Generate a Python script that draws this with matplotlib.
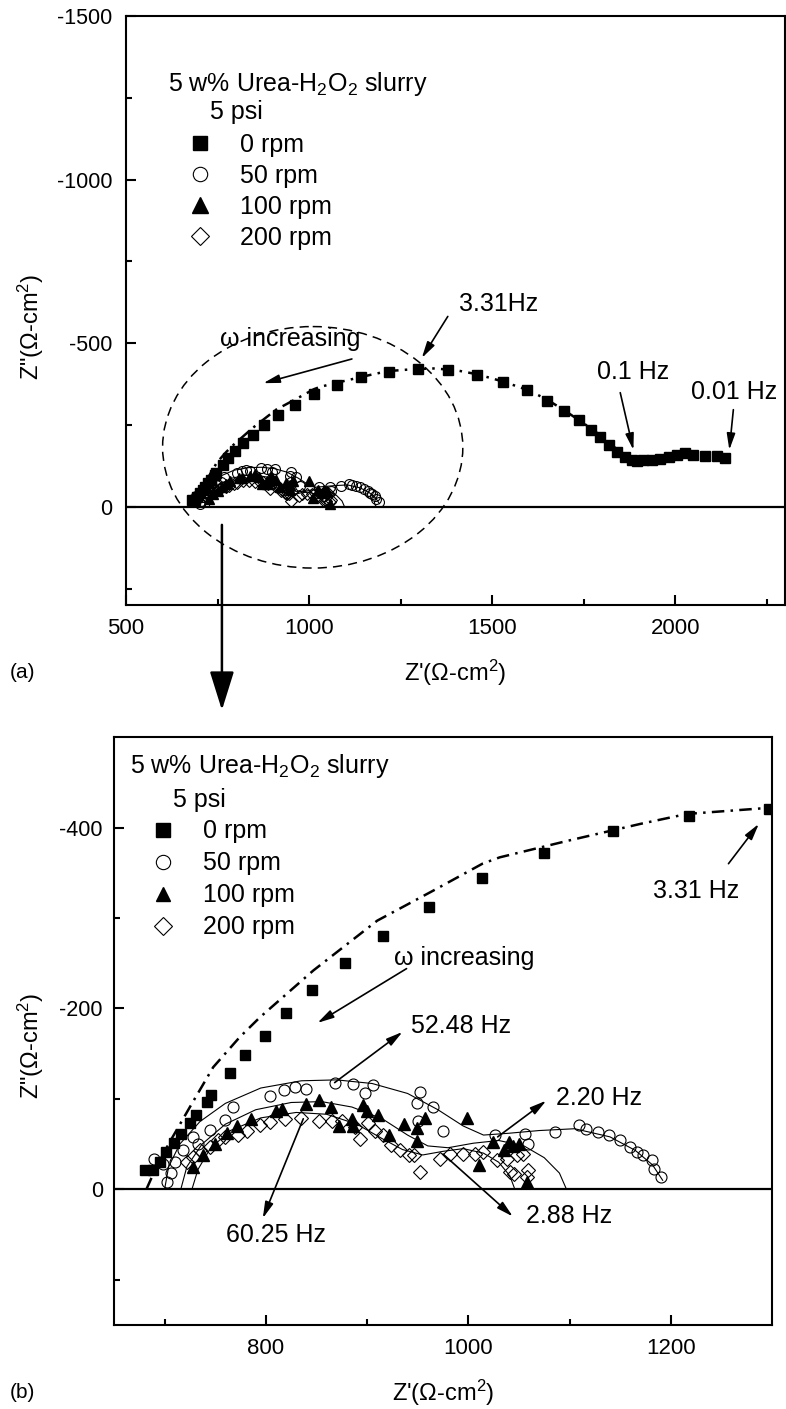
import matplotlib
matplotlib.use("Agg")
import matplotlib.pyplot as plt
from matplotlib.patches import Ellipse
from matplotlib.ticker import FixedLocator

plt.rcParams["font.family"] = ["Liberation Sans", "DejaVu Sans"]
plt.rcParams["mathtext.fontset"] = "custom"
plt.rcParams["mathtext.rm"] = "Liberation Sans"
plt.rcParams["mathtext.it"] = "Liberation Sans:italic"
plt.rcParams["mathtext.default"] = "regular"
plt.rcParams["axes.unicode_minus"] = False

NARROW = ["Liberation Sans Narrow", "Liberation Sans"]

# ---------------------------------------------------------
# Impedance data, Z' and Z'' in ohm-cm2 (Z'' negative)
# ---------------------------------------------------------

# 0 rpm
z0_re = [681, 689, 695, 701, 709, 716, 725, 731, 742, 746, 765, 779, 799, 820,
         846, 878, 916, 961, 1014, 1075, 1143, 1218, 1297, 1380, 1459, 1530,
         1595, 1649, 1697, 1738, 1770, 1795, 1818, 1841, 1863, 1882, 1895, 1913,
         1936, 1959, 1982, 2004, 2027, 2050, 2082, 2114, 2137]
z0_im = [-21, -21, -30, -41, -51, -61, -73, -82, -96, -104, -129, -148, -170, -195,
         -220, -250, -280, -312, -344, -372, -396, -413, -420, -419, -404, -383,
         -358, -325, -294, -264, -235, -213, -190, -169, -152, -142, -139, -142,
         -144, -147, -152, -159, -164, -159, -154, -154, -149]

# 50 rpm
z50_re = [690, 698, 702, 706, 710, 718, 728, 733, 745, 760, 768, 804, 818, 829,
          840, 868, 886, 898, 906, 952, 949, 965, 950, 975, 1026, 1056, 1059,
          1086, 1109, 1116, 1128, 1139, 1150, 1160, 1167, 1173, 1181, 1183, 1190]
z50_im = [-33, -28, -8, -18, -30, -44, -58, -50, -66, -77, -91, -103, -110, -113,
          -111, -118, -117, -107, -115, -108, -95, -91, -76, -65, -60, -61, -50,
          -63, -71, -67, -63, -60, -54, -47, -41, -38, -32, -23, -14]

# 100 rpm
z100_re = [728, 738, 750, 762, 772, 785, 810, 816, 840, 853, 864, 872, 885, 886,
           896, 900, 911, 922, 936, 949, 949, 957, 999, 1011, 1024, 1035, 1040,
           1044, 1050, 1058]
z100_im = [-25, -38, -50, -62, -70, -78, -87, -89, -94, -99, -91, -70, -78, -70,
           -93, -87, -82, -60, -72, -53, -68, -79, -79, -27, -52, -43, -52,
           -48, -50, -8]

# 200 rpm
z200_re = [722, 728, 735, 745, 753, 760, 773, 781, 794, 804, 819, 835, 853, 865,
           875, 888, 893, 901, 908, 916, 924, 933, 941, 946, 952, 972, 982, 995,
           1007, 1015, 1028, 1038, 1041, 1045, 1048, 1054, 1058, 1059]
z200_im = [-30, -36, -43, -47, -54, -58, -60, -65, -71, -74, -78, -79, -76, -76,
           -76, -69, -56, -73, -65, -60, -49, -43, -38, -38, -19, -34, -39, -39,
           -39, -41, -32, -34, -19, -17, -38, -39, -14, -21]

# fitted curves
fit0_re = [682, 690, 700, 708, 725, 748, 774, 794, 847, 910, 965, 1014, 1031, 1097,
           1170, 1216, 1288, 1340, 1400, 1460, 1530, 1600, 1650, 1700, 1740, 1780,
           1820, 1850, 1880]
fit0_im = [0, -20, -42, -58, -91, -135, -168, -190, -242, -297, -330, -360, -367, -385,
           -404, -415, -421, -423, -418, -405, -383, -356, -328, -293, -263, -232,
           -195, -168, -148]

fit50_re = [700, 704, 715, 735, 760, 795, 835, 870, 905, 940, 970, 995, 1015, 1040,
            1070, 1105, 1140, 1165, 1182, 1192]
fit50_im = [0, -25, -50, -75, -95, -112, -120, -121, -117, -106, -88, -70, -60, -62,
            -65, -67, -58, -43, -27, -10]

fit100_re = [716, 722, 737, 760, 790, 825, 855, 885, 915, 940, 960, 980, 1005, 1030,
             1055, 1075, 1090, 1097]
fit100_im = [0, -25, -50, -72, -88, -96, -97, -91, -78, -60, -48, -46, -51, -54,
             -48, -35, -18, 0]

fit200_re = [727, 733, 745, 765, 795, 830, 860, 890, 915, 935, 955, 975, 995, 1015,
             1030, 1041, 1046]
fit200_im = [0, -22, -45, -65, -79, -85, -83, -72, -56, -44, -38, -42, -45, -40,
             -30, -15, 0]

labels = ["0 rpm", "50 rpm", "100 rpm", "200 rpm"]


def draw_series(ax, ms):
    ax.axhline(0, color="k", lw=1.6, zorder=1)
    ax.plot(fit0_re, fit0_im, color="k", lw=1.8, dashes=[5, 2.5, 1, 2.5], zorder=2)
    for fx, fy in [(fit50_re, fit50_im), (fit100_re, fit100_im), (fit200_re, fit200_im)]:
        ax.plot(fx, fy, color="k", lw=0.8, zorder=2)
    h0, = ax.plot(z0_re, z0_im, "s", color="k", ms=ms, ls="none", zorder=3)
    h1, = ax.plot(z50_re, z50_im, "o", mfc="none", mec="k", mew=0.8, ms=ms * 1.1, ls="none", zorder=3)
    h2, = ax.plot(z100_re, z100_im, "^", color="k", ms=ms * 1.15, ls="none", zorder=3)
    h3, = ax.plot(z200_re, z200_im, "D", mfc="none", mec="k", mew=0.8, ms=ms * 0.95, ls="none", zorder=3)
    return [h0, h1, h2, h3]


def style_axes(ax, xmaj, xmin, ymaj, ymin, ypad):
    for sp in ax.spines.values():
        sp.set_linewidth(1.5)
    ax.xaxis.set_major_locator(FixedLocator(xmaj))
    ax.xaxis.set_minor_locator(FixedLocator(xmin))
    ax.yaxis.set_major_locator(FixedLocator(ymaj))
    ax.yaxis.set_minor_locator(FixedLocator(ymin))
    ax.tick_params(which="major", direction="in", length=7.5, width=1.5,
                   top=False, right=False)
    ax.tick_params(which="minor", direction="in", length=4.5, width=1.5,
                   top=False, right=False)
    ax.tick_params(axis="y", labelsize=15.5, pad=ypad)
    ax.tick_params(axis="x", pad=9)
    for lab in ax.get_xticklabels():
        lab.set_family(NARROW)
        lab.set_fontsize(16)


def add_header(ax, x0, y0, dy, x1):
    ax.text(x0, y0, "5 w% Urea-H$_2$O$_2$ slurry", transform=ax.transAxes,
            fontsize=18, va="center", ha="left")
    ax.text(x1, y0 - dy, "5 psi", transform=ax.transAxes,
            fontsize=18, va="center", ha="left")


def note(ax, text, xy, xytext, tpos, ha="center"):
    ax.annotate("", xy=xy, xytext=xytext,
                arrowprops=dict(arrowstyle="-|>,head_length=0.7,head_width=0.18",
                                color="k", lw=1.2, shrinkA=0, shrinkB=0,
                                mutation_scale=14))
    ax.text(tpos[0], tpos[1], text, fontsize=18, ha=ha, va="center")


fig = plt.figure(figsize=(7.86, 14.09), dpi=100)
ax_a = fig.add_axes([0.1603, 0.5706, 0.8384, 0.418])
ax_b = fig.add_axes([0.1450, 0.0596, 0.8372, 0.4173])

# ---------------- panel (a) ----------------
handles_a = draw_series(ax_a, 6.5)
ax_a.set_xlim(500, 2300)
ax_a.set_ylim(300, -1500)
style_axes(ax_a, [500, 1000, 1500, 2000], [750, 1250, 1750, 2250],
           [-1500, -1000, -500, 0], [-1250, -750, -250, 250], 10)
ax_a.add_patch(Ellipse((1010, -182), 820, 738, fill=False, ec="k", lw=1.1,
                       ls=(0, (6, 4)), zorder=1))
ax_a.set_xlabel("Z'(Ω-cm$^2$)", fontsize=17, labelpad=14)
ax_a.set_ylabel('Z"(Ω-cm$^2$)', fontsize=17)
ax_a.yaxis.set_label_coords(-0.122, 0.472)

add_header(ax_a, 0.064, 0.884, 0.047, 0.128)
ax_a.legend(handles_a, labels, loc="upper left", bbox_to_anchor=(0.094, 0.802),
            frameon=False, fontsize=18, markerscale=1.45, handlelength=1.0,
            handletextpad=1.1, labelspacing=0.28, borderpad=0, borderaxespad=0)

note(ax_a, "3.31Hz", (1308, -455), (1379, -582), (1519, -621))
note(ax_a, "ω increasing", (875, -378), (1117, -452), (948, -514))
note(ax_a, "0.1 Hz", (1886, -174), (1850, -349), (1885, -413))
note(ax_a, "0.01 Hz", (2148, -174), (2159, -297), (2161, -352))

# zoom arrow from panel (a) down towards panel (b)
ax_a.annotate("", xy=(762, 0.496), xycoords=("data", "figure fraction"),
              xytext=(762, 55), textcoords="data", annotation_clip=False,
              arrowprops=dict(arrowstyle="-|>,head_length=1.6,head_width=0.5",
                              color="k", lw=1.8, shrinkA=0, shrinkB=0,
                              mutation_scale=15))

# ---------------- panel (b) ----------------
handles_b = draw_series(ax_b, 7.2)
ax_b.set_xlim(650, 1300)
ax_b.set_ylim(150, -500)
style_axes(ax_b, [800, 1000, 1200], [700, 900, 1100],
           [-400, -200, 0], [-300, -100, 100], 8)
ax_b.set_xlabel("Z'(Ω-cm$^2$)", fontsize=17, labelpad=14)
ax_b.set_ylabel('Z"(Ω-cm$^2$)', fontsize=17)
ax_b.yaxis.set_label_coords(-0.103, 0.4745)

add_header(ax_b, 0.024, 0.951, 0.058, 0.09)
ax_b.legend(handles_b, labels, loc="upper left", bbox_to_anchor=(0.0555, 0.860),
            frameon=False, fontsize=18, markerscale=1.3, handlelength=1.0,
            handletextpad=1.1, labelspacing=0.32, borderpad=0, borderaxespad=0)

note(ax_b, "3.31 Hz", (1287, -404), (1257, -360), (1225, -330))
note(ax_b, "ω increasing", (851, -184), (939, -244), (996, -256))
note(ax_b, "52.48 Hz", (935, -174), (868, -118), (993, -181))
note(ax_b, "2.20 Hz", (1077, -98), (1029, -58), (1129, -101))
note(ax_b, "60.25 Hz", (797, 32), (837, -78), (810, 50))
note(ax_b, "2.88 Hz", (1044, 30), (975, -39), (1100, 30))

fig.text(0.012, 1 - 673 / 1409, "(a)", fontsize=15, va="center", family=NARROW)
fig.text(0.012, 1 - 1393 / 1409, "(b)", fontsize=15, va="center", family=NARROW)

fig.savefig("out.png", dpi=100)
